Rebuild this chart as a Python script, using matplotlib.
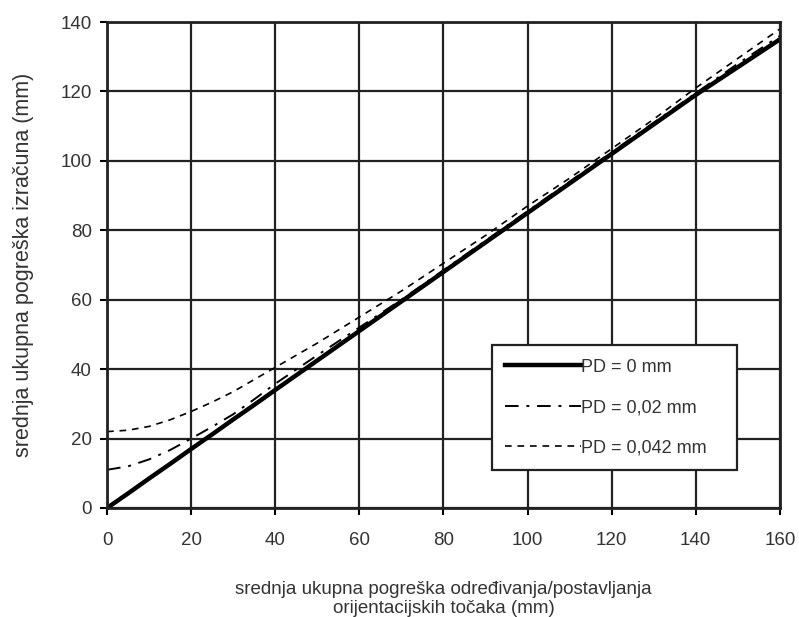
import matplotlib.pyplot as plt

plt.rcParams["font.family"] = ["Liberation Sans", "DejaVu Sans"]

# values
x_vals = [0, 5, 10, 15, 20, 25, 30, 35, 40, 50, 60, 70, 80, 90, 100, 110, 120, 130, 140, 150, 160]
pd_0 = [0, 4.2, 8.5, 12.7, 17, 21.2, 25.5, 29.7, 34, 42.5, 51, 59.5, 68, 76.5, 85, 93.5, 102, 110.5, 119, 127, 135]
pd_002 = [11, 12, 14, 16.7, 20, 23.4, 27, 31.3, 35.8, 44, 52, 60, 68.5, 77, 85.5, 94, 102.5, 111, 119.5, 128, 136]
pd_0042 = [22, 22.4, 23.5, 25.4, 27.8, 30.5, 33.5, 37, 40.5, 47.5, 55, 62.5, 70.5, 78.5, 87, 95, 103.5, 112, 121, 129.5, 138]

labels = ["PD = 0 mm", "PD = 0,02 mm", "PD = 0,042 mm"]

x_ticks = [0, 20, 40, 60, 80, 100, 120, 140, 160]
y_ticks = [0, 20, 40, 60, 80, 100, 120, 140]

fig = plt.figure(figsize=(7.99, 6.17), dpi=100)
ax = fig.add_axes([0.134, 0.1767, 0.842, 0.7876])

ax.plot(x_vals, pd_0, color="black", lw=3.2, ls="-", label=labels[0])
ax.plot(x_vals, pd_002, color="black", lw=1.4, ls=(0, (7, 4, 1.5, 4)), label=labels[1])
ax.plot(x_vals, pd_0042, color="black", lw=1.2, ls=(0, (4, 3.5)), label=labels[2])

ax.set_xlim(0, 160)
ax.set_ylim(0, 140)
ax.set_xticks(x_ticks)
ax.set_yticks(y_ticks)
ax.grid(True, color="#222222", lw=1.6)
ax.set_axisbelow(True)

for s in ax.spines.values():
    s.set_linewidth(2)
    s.set_color("#222222")

ax.tick_params(direction="out", length=5, width=1.5, labelsize=13.5,
               labelcolor="#333333")
ax.tick_params(axis="x", pad=12)
ax.tick_params(axis="y", pad=6)

ax.set_xlabel("srednja ukupna pogreška određivanja/postavljanja\norijentacijskih točaka (mm)",
              fontsize=13.5, color="#333333", labelpad=23.5, linespacing=1.1)
ax.set_ylabel("srednja ukupna pogreška izračuna (mm)", fontsize=15.5,
              color="#333333", labelpad=19)

leg = ax.legend(loc="lower left", bbox_to_anchor=(0.572, 0.078, 0.364, 0.26),
                mode="expand", borderaxespad=0, fontsize=13, handlelength=4.2,
                handletextpad=0.0, labelspacing=1.3, borderpad=0.75,
                fancybox=False, framealpha=1)
leg.get_frame().set_edgecolor("#222222")
leg.get_frame().set_linewidth(1.6)
for t in leg.get_texts():
    t.set_color("#333333")

plt.savefig("out.png", dpi=100)
plt.close()
